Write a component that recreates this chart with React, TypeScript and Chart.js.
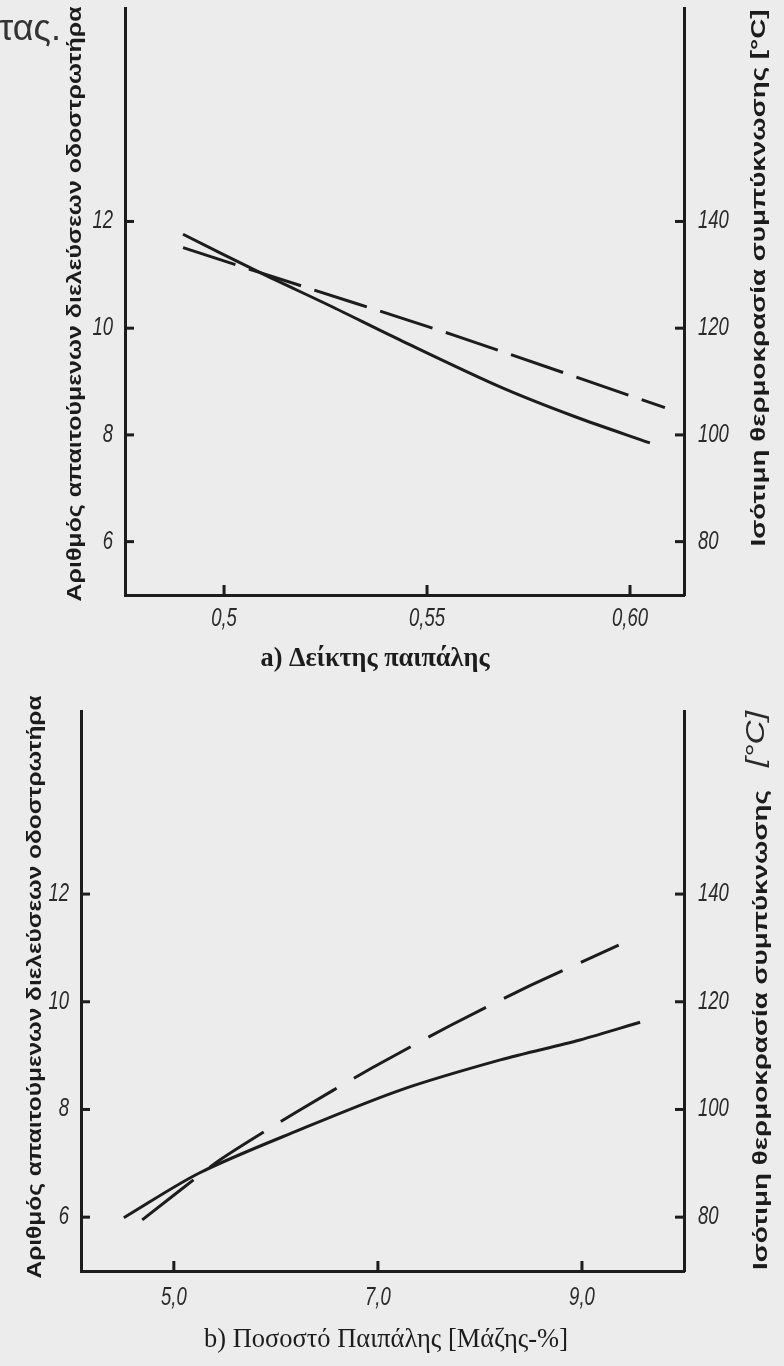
import React, { useEffect, useRef } from "react";
import { Chart, registerables } from "chart.js";

Chart.register(...registerables);

// ---------- Chart a: Δείκτης παιπάλης ----------
const A_SOLID_X = [0.4899, 0.5089, 0.5261, 0.5433, 0.568, 0.5865, 0.6049];
const A_SOLID_PASSES = [11.76, 11.04, 10.42, 9.78, 8.9, 8.34, 7.85];
const A_DASH_X = [0.4899, 0.5089, 0.5562, 0.6086];
const A_DASH_TEMP = [135.1, 130.4, 118.8, 105.1];
const A_X_TICKS = [0.5, 0.55, 0.6];
const A_X_TICK_LABELS = ["0,5", "0,55", "0,60"];

// ---------- Chart b: Ποσοστό Παιπάλης ----------
const B_SOLID_X = [4.51, 5.25, 6.23, 7.22, 8.2, 8.98, 9.57];
const B_SOLID_PASSES = [5.99, 6.82, 7.62, 8.36, 8.92, 9.29, 9.62];
const B_DASH_X = [4.69, 5.45, 6.19, 6.94, 7.71, 8.49, 9.36];
const B_DASH_TEMP = [79.5, 90.6, 99.4, 107.7, 115.6, 123.0, 130.5];
const B_X_TICKS = [5, 7, 9];
const B_X_TICK_LABELS = ["5,0", "7,0", "9,0"];

// shared axes
const LEFT_TICKS = [6, 8, 10, 12];
const LEFT_TICK_LABELS = ["6", "8", "10", "12"];
const RIGHT_TICKS = [80, 100, 120, 140];
const RIGHT_TICK_LABELS = ["80", "100", "120", "140"];

const LEFT_TITLE = "Αριθμός απαιτούμενων διελεύσεων οδοστρωτήρα";
const RIGHT_TITLE_A = "Ισότιμη θερμοκρασία συμπύκνωσης [°C]";
const RIGHT_TITLE_B = "Ισότιμη θερμοκρασία συμπύκνωσης";
const UNIT_B = "[°C]";
const X_TITLE_A = "a) Δείκτης παιπάλης";
const X_TITLE_B = "b) Ποσοστό Παιπάλης [Μάζης-%]";
const TOP_FRAGMENT = "τας.";

const BG = "#ececec";
const INK = "#1c1c1c";
const TICK_COLOR = "#2a2a2a";
const TICK_FAMILY = "'Liberation Sans', Arial, sans-serif";
const SANS = "'Liberation Sans', Arial, sans-serif";
const SERIF = "'Liberation Serif', 'Times New Roman', serif";
const TICK_FONT = `italic 25px ${TICK_FAMILY}`;
const TICK_SQUEEZE = 0.74;

type TextSpec = {
  text: string;
  x: number;
  y: number;
  rotate?: boolean;
  fit?: number;
  stretch?: boolean;
  size: number;
  style: string;
  family: string;
  color: string;
  align?: CanvasTextAlign;
  baseline?: CanvasTextBaseline;
};

function drawText(ctx: CanvasRenderingContext2D, t: TextSpec) {
  ctx.save();
  ctx.translate(t.x, t.y);
  if (t.rotate) ctx.rotate(-Math.PI / 2);
  let size = t.size;
  ctx.font = `${t.style} ${size}px ${t.family}`;
  if (t.fit) {
    const w = ctx.measureText(t.text).width;
    if (t.stretch) {
      ctx.scale(t.fit / w, 1);
    } else {
      size = (size * t.fit) / w;
      ctx.font = `${t.style} ${size}px ${t.family}`;
    }
  }
  ctx.fillStyle = t.color;
  ctx.textAlign = t.align || "center";
  ctx.textBaseline = t.baseline || "middle";
  ctx.fillText(t.text, 0, 0);
  ctx.restore();
}

function drawTickLabel(
  ctx: CanvasRenderingContext2D,
  text: string,
  x: number,
  y: number,
  align: CanvasTextAlign,
  baseline: CanvasTextBaseline
) {
  ctx.save();
  ctx.translate(x, y);
  ctx.scale(TICK_SQUEEZE, 1);
  ctx.font = TICK_FONT;
  ctx.fillStyle = TICK_COLOR;
  ctx.textAlign = align;
  ctx.textBaseline = baseline;
  ctx.fillText(text, 0, 0);
  ctx.restore();
}

function labelFor(values: number[], labels: string[], v: number) {
  const i = values.findIndex((a) => Math.abs(a - v) < 1e-6);
  return i >= 0 ? labels[i] : "";
}

const decorPlugin = {
  id: "decor",
  afterDraw(chart: any, _args: any, opts: any) {
    const ctx: CanvasRenderingContext2D = chart.ctx;
    const { left, right, bottom } = chart.chartArea;
    ctx.save();
    ctx.strokeStyle = INK;
    ctx.lineWidth = 3;
    ctx.lineCap = "butt";
    const seg = (x1: number, y1: number, x2: number, y2: number) => {
      ctx.beginPath();
      ctx.moveTo(x1, y1);
      ctx.lineTo(x2, y2);
      ctx.stroke();
    };
    const sy = chart.scales.y;
    sy.ticks.forEach((t: any) => {
      const p = sy.getPixelForValue(t.value);
      seg(left - 1, p, left + 9, p);
      drawTickLabel(ctx, labelFor(LEFT_TICKS, LEFT_TICK_LABELS, t.value), left - 12, p, "right", "middle");
    });
    const sy1 = chart.scales.y1;
    sy1.ticks.forEach((t: any) => {
      const p = sy1.getPixelForValue(t.value);
      seg(right - 9, p, right + 1, p);
      drawTickLabel(ctx, labelFor(RIGHT_TICKS, RIGHT_TICK_LABELS, t.value), right + 14, p, "left", "middle");
    });
    const sx = chart.scales.x;
    sx.ticks.forEach((t: any) => {
      const p = sx.getPixelForValue(t.value);
      seg(p, bottom + 1, p, bottom - 10);
      drawTickLabel(ctx, labelFor(opts.xTicks, opts.xLabels, t.value), p, bottom + opts.xLabelGap, "center", "top");
    });
    ctx.restore();
    (opts.texts || []).forEach((t: TextSpec) => drawText(ctx, t));
  },
};

type Spec = {
  solidX: number[];
  solidY: number[];
  dashX: number[];
  dashY: number[];
  xTicks: number[];
  xLabels: string[];
  xLabelGap: number;
  xMin: number;
  xMax: number;
  yMin: number;
  yMax: number;
  y1Min: number;
  y1Max: number;
  leftW: number;
  rightW: number;
  bottomH: number;
  top: number;
  dash: number[];
  tension: number;
  texts: TextSpec[];
};

function buildConfig(s: Spec): any {
  const axisBase = {
    type: "linear",
    grid: { display: false, drawTicks: false },
    border: { display: true, color: INK, width: 3 },
    ticks: { display: false, autoSkip: false },
  };
  return {
    type: "line",
    data: {
      datasets: [
        {
          data: s.solidX.map((x, i) => ({ x, y: s.solidY[i] })),
          yAxisID: "y",
          borderColor: INK,
          borderWidth: 3,
          pointRadius: 0,
          tension: s.tension,
          fill: false,
        },
        {
          data: s.dashX.map((x, i) => ({ x, y: s.dashY[i] })),
          yAxisID: "y1",
          borderColor: INK,
          borderWidth: 3,
          borderDash: s.dash,
          pointRadius: 0,
          tension: 0.2,
          fill: false,
        },
      ],
    },
    options: {
      responsive: false,
      animation: false,
      events: [],
      layout: { padding: { top: s.top, left: 0, right: 0, bottom: 0 } },
      plugins: {
        legend: { display: false },
        tooltip: { enabled: false },
        title: { display: false },
        decor: { texts: s.texts, xTicks: s.xTicks, xLabels: s.xLabels, xLabelGap: s.xLabelGap },
      },
      scales: {
        x: {
          ...axisBase,
          position: "bottom",
          min: s.xMin,
          max: s.xMax,
          afterBuildTicks: (sc: any) => {
            sc.ticks = s.xTicks.map((v) => ({ value: v }));
          },
          afterFit: (sc: any) => {
            sc.height = s.bottomH;
          },
        },
        y: {
          ...axisBase,
          position: "left",
          min: s.yMin,
          max: s.yMax,
          afterBuildTicks: (sc: any) => {
            sc.ticks = LEFT_TICKS.map((v) => ({ value: v }));
          },
          afterFit: (sc: any) => {
            sc.width = s.leftW;
          },
        },
        y1: {
          ...axisBase,
          position: "right",
          min: s.y1Min,
          max: s.y1Max,
          afterBuildTicks: (sc: any) => {
            sc.ticks = RIGHT_TICKS.map((v) => ({ value: v }));
          },
          afterFit: (sc: any) => {
            sc.width = s.rightW;
          },
        },
      },
    },
    plugins: [decorPlugin],
  };
}

const specA: Spec = {
  solidX: A_SOLID_X,
  solidY: A_SOLID_PASSES,
  dashX: A_DASH_X,
  dashY: A_DASH_TEMP,
  xTicks: A_X_TICKS,
  xLabels: A_X_TICK_LABELS,
  xLabelGap: 12,
  xMin: 0.4756,
  xMax: 0.6133,
  yMin: 5,
  yMax: 16,
  y1Min: 70,
  y1Max: 180,
  leftW: 125,
  rightW: 100,
  bottomH: 88,
  top: 8,
  dash: [55, 14],
  tension: 0.3,
  texts: [
    { text: LEFT_TITLE, x: 75, y: 304, rotate: true, fit: 595, stretch: true, size: 21, style: "bold", family: SANS, color: INK },
    { text: RIGHT_TITLE_A, x: 759, y: 278, rotate: true, fit: 537, stretch: true, size: 21, style: "bold", family: SANS, color: INK },
    { text: X_TITLE_A, x: 375, y: 659, fit: 229, size: 22, style: "bold", family: SERIF, color: INK },
    { text: TOP_FRAGMENT, x: -1, y: 40, fit: 62, size: 30, style: "normal", family: SANS, color: "#333333", align: "left", baseline: "alphabetic" },
  ],
};

const specB: Spec = {
  solidX: B_SOLID_X,
  solidY: B_SOLID_PASSES,
  dashX: B_DASH_X,
  dashY: B_DASH_TEMP,
  xTicks: B_X_TICKS,
  xLabels: B_X_TICK_LABELS,
  xLabelGap: 15,
  xMin: 4.09,
  xMax: 10.0,
  yMin: 5,
  yMax: 15.4,
  y1Min: 70,
  y1Max: 174,
  leftW: 81,
  rightW: 100,
  bottomH: 95,
  top: 28,
  dash: [65, 20],
  tension: 0.3,
  texts: [
    { text: LEFT_TITLE, x: 35, y: 304, rotate: true, fit: 583, stretch: true, size: 21, style: "bold", family: SANS, color: INK },
    { text: RIGHT_TITLE_B, x: 761, y: 347, rotate: true, fit: 480, stretch: true, size: 21, style: "bold", family: SANS, color: INK },
    { text: UNIT_B, x: 757, y: 56, rotate: true, fit: 56, stretch: true, size: 25, style: "italic", family: TICK_FAMILY, color: TICK_COLOR },
    { text: X_TITLE_B, x: 386, y: 657, fit: 364, size: 23, style: "normal", family: SERIF, color: INK },
  ],
};

export default function App() {
  const refA = useRef<HTMLCanvasElement>(null);
  const refB = useRef<HTMLCanvasElement>(null);

  useEffect(() => {
    const a = new Chart(refA.current as HTMLCanvasElement, buildConfig(specA));
    const b = new Chart(refB.current as HTMLCanvasElement, buildConfig(specB));
    return () => {
      a.destroy();
      b.destroy();
    };
  }, []);

  return (
    <div
      style={{
        position: "fixed",
        left: 0,
        top: 0,
        width: 784,
        height: 1366,
        background: BG,
        overflow: "hidden",
      }}
    >
      <canvas
        ref={refA}
        width={784}
        height={683}
        style={{ position: "absolute", left: 0, top: 0, width: 784, height: 683, display: "block" }}
      />
      <canvas
        ref={refB}
        width={784}
        height={683}
        style={{ position: "absolute", left: 0, top: 683, width: 784, height: 683, display: "block" }}
      />
    </div>
  );
}
